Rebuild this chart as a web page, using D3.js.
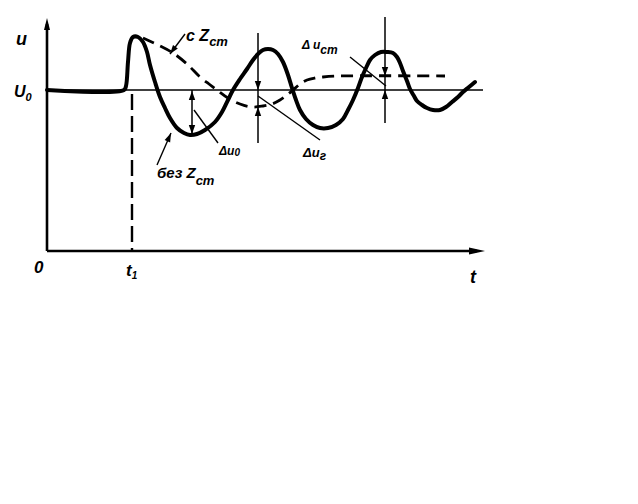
<!DOCTYPE html>
<html><head><meta charset="utf-8">
<script src="https://cdn.jsdelivr.net/npm/d3@7"></script>
<style>html,body{margin:0;padding:0;background:#fff;}svg{display:block;}</style>
</head><body>
<script>
// ---- data (t, u in figure units) ----
const U0 = 16.1;
const T1 = 8.5;
const solidT = [0,7.7,7.9,8.1,8.3,8.6,9.1,9.6,10.0,10.3,10.8,11.3,11.8,12.3,13.0,13.7,14.3,15.0,15.8,16.8,17.5,18.1,18.6,19.3,20.0,20.6,21.1,21.6,22.1,22.6,23.1,23.6,24.1,24.5,24.9,25.3,25.9,26.6,27.3,28.1,28.9,29.6,30.1,30.6,31.1,31.5,31.9,32.3,32.8,33.4,34.0,34.6,35.0,35.3,35.6,36.0,36.3,36.7,37.0,37.5,38.0,38.6,39.3,39.9,40.5,41.1,41.6,42.2,42.8];
const solidU = [16.1,16.1,16.5,18.9,20.8,21.4,21.4,20.9,19.9,18.6,16.9,15.4,14.3,13.3,12.3,11.8,11.6,11.7,12.1,12.9,13.9,15.1,16.1,17.2,18.2,19.1,19.7,20.1,20.2,20.1,19.7,18.9,17.6,16.3,15.1,14.1,13.2,12.6,12.3,12.3,12.6,13.2,14.1,15.1,16.3,17.4,18.3,19.1,19.6,19.9,19.9,19.8,19.4,18.8,18.0,17.0,16.2,15.5,15.0,14.6,14.3,14.1,14.1,14.4,14.9,15.4,15.9,16.4,16.9];
const dashT = [9.6,11.3,12.6,14.0,15.3,16.2,17.0,18.1,19.3,20.5,21.6,22.5,23.3,24.0,24.6,25.3,26.0,26.8,27.6,29.3,39.8];
const dashU = [21.3,20.5,19.8,18.7,17.4,16.7,16.1,15.3,14.7,14.4,14.5,14.7,15.1,15.6,16.1,16.7,17.1,17.3,17.4,17.5,17.5];
// measurement markers: t position, from-u, to-u
const dU0 = {t:14.5, top:U0, bottom:11.6};
const dUr = {t:21.1, top:21.8, bottom:10.8, a:U0, b:14.4};
const dUst = {t:33.8, top:23.4, bottom:12.8, a:17.5, b:U0};
const axisLabels = ["0","t","u"];

const W=638,H=504;
const svg=d3.select("body").append("svg").attr("width",W).attr("height",H);
const x=d3.scaleLinear().domain([0,43.6]).range([47,483]);
const y=d3.scaleLinear().domain([0,23.3]).range([251,18]);
const ink="#000";
const font="'Liberation Sans', Arial, sans-serif";

function arrowHead(px,py,dx,dy,len=9,wid=3.2){
  const n=Math.hypot(dx,dy);dx/=n;dy/=n;
  const bx=px-dx*len,by=py-dy*len;
  svg.append("path").attr("d",`M${px},${py}L${bx-dy*wid},${by+dx*wid}L${bx+dy*wid},${by-dx*wid}Z`).attr("fill",ink);
}

// axes
svg.append("line").attr("x1",x(0)).attr("y1",y(0)).attr("x2",x(0)).attr("y2",y(23.3)+6).attr("stroke",ink).attr("stroke-width",2.6);
arrowHead(x(0),y(23.3),0,-1,12,3);
svg.append("line").attr("x1",x(0)).attr("y1",y(0)).attr("x2",x(43.6)-6).attr("y2",y(0)).attr("stroke",ink).attr("stroke-width",2.6);
arrowHead(x(43.6)+2,y(0),1,0,16,3.5);

// U0 baseline
svg.append("line").attr("x1",x(0)).attr("x2",x(43.6)).attr("y1",y(U0)).attr("y2",y(U0)).attr("stroke",ink).attr("stroke-width",1.4);

// t1 dashed
svg.append("line").attr("x1",x(T1)).attr("x2",x(T1)).attr("y1",y(U0)+4).attr("y2",y(0)).attr("stroke",ink).attr("stroke-width",2.4).attr("stroke-dasharray","16,6");

const line=d3.line().x(d=>x(d[0])).y(d=>y(d[1])).curve(d3.curveCatmullRom.alpha(0.5));
svg.append("path").attr("d",line(dashT.map((t,i)=>[t,dashU[i]]))).attr("fill","none").attr("stroke",ink).attr("stroke-width",2.8).attr("stroke-dasharray","12,7");
svg.append("path").attr("d",line(solidT.map((t,i)=>[t,solidU[i]]))).attr("fill","none").attr("stroke",ink).attr("stroke-width",4).attr("stroke-linejoin","round").attr("stroke-linecap","round");

// measurement lines
svg.append("line").attr("x1",x(dU0.t)).attr("x2",x(dU0.t)).attr("y1",y(dU0.top)).attr("y2",y(dU0.bottom)).attr("stroke",ink).attr("stroke-width",1.5);
arrowHead(x(dU0.t),y(dU0.top)+1,0,-1);
arrowHead(x(dU0.t),y(dU0.bottom)-1,0,1);
[dUr,dUst].forEach(m=>{
  svg.append("line").attr("x1",x(m.t)).attr("x2",x(m.t)).attr("y1",y(m.top)).attr("y2",y(m.bottom)).attr("stroke",ink).attr("stroke-width",1.5);
  arrowHead(x(m.t),y(m.a),0,1);
  arrowHead(x(m.t),y(m.b),0,-1);
});

// leader lines
function lead(x1,y1,x2,y2,arrow){
  svg.append("line").attr("x1",x1).attr("y1",y1).attr("x2",x2).attr("y2",y2).attr("stroke",ink).attr("stroke-width",1.4);
  if(arrow) arrowHead(x2,y2,x2-x1,y2-y1,9,3);
}
lead(x(13.8),y(21.7),x(12.3),y(19.7),true);   // с Zст
lead(x(11.0),y(8.6),x(12.4),y(11.8),true);    // без Zст
lead(x(14.7),y(14.1),x(17.1),y(10.8),false);  // Δu0
lead(x(21.1),y(15.5),x(27.3),y(11.1),false);  // Δuг
lead(x(30.3),y(19.4),x(33.9),y(16.5),false);  // Δuст

function txt(px,py,s,size,opts={}){
  const t=svg.append("text").attr("x",px).attr("y",py).attr("font-family",font).attr("font-size",size)
    .attr("font-style","italic").attr("font-weight","bold").attr("fill",ink).text(s);
  return t;
}
function sub(px,py,main,subs,size,subsize,dy){
  const t=txt(px,py,"",size);
  t.append("tspan").text(main);
  t.append("tspan").attr("dy",dy).attr("font-size",subsize).text(subs);
  return t;
}
txt(16,45,"u",18);
sub(14,97,"U","0",16,11,4);
txt(34,273,axisLabels[0],17);
sub(x(T1)-6,276,"t","1",17,10,3);
txt(470,283,axisLabels[1],18);

sub(186,41,"c Z","ст",16,13,5);
sub(157,178,"без Z","ст",15,13,7);
sub(219,155,"Δu","0",12,10,1);
sub(303,157,"Δu","г",13,12,3);
sub(302,49,"Δ u","ст",12,12,5);
</script>
</body></html>
